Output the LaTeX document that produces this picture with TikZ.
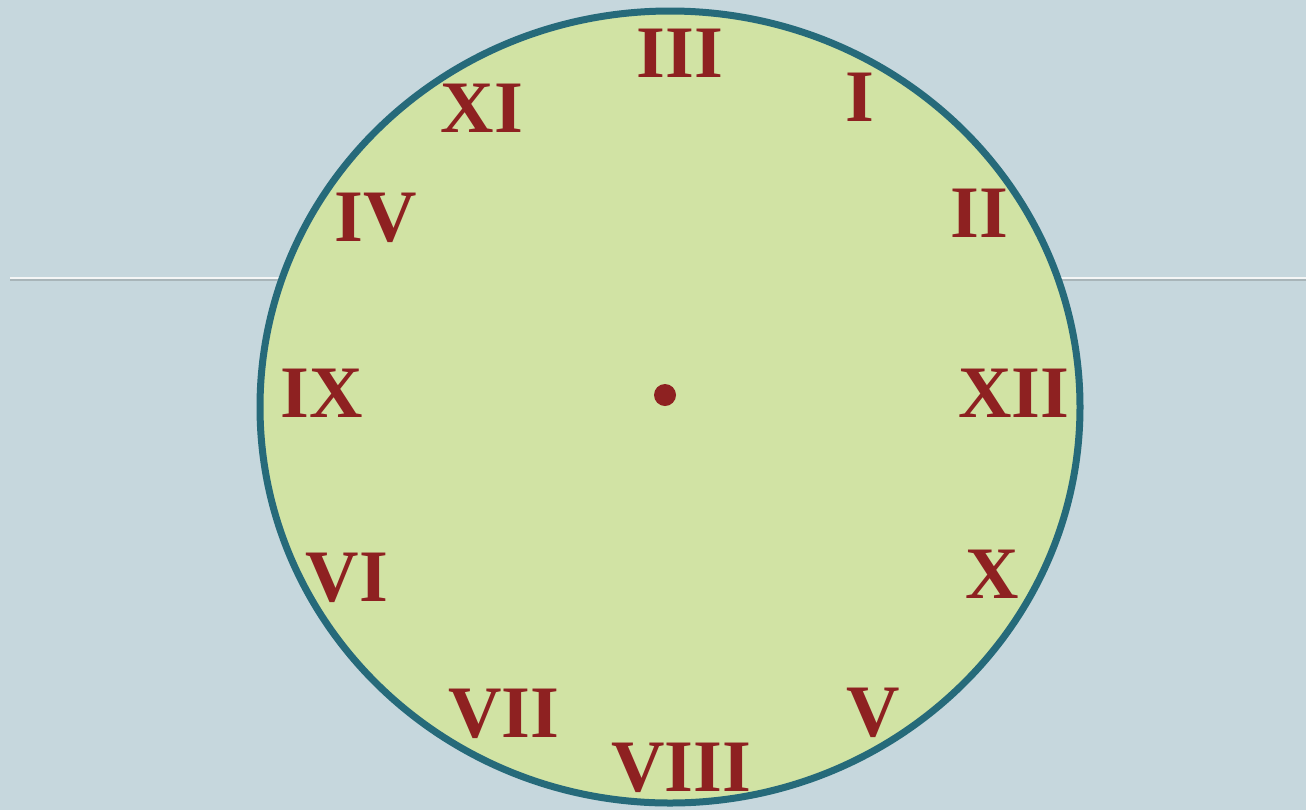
\documentclass[tikz,border=0pt]{standalone}
\usepackage{fontspec}
\setmainfont{Liberation Serif}
\usetikzlibrary{shapes.geometric}
\definecolor{paper}{HTML}{C6D7DD}
\definecolor{dialfill}{HTML}{D1E3A4}
\definecolor{rim}{HTML}{266A7A}
\definecolor{numred}{HTML}{8E2121}
\definecolor{ruleshadow}{HTML}{A8B5B9}
\definecolor{rulewhite}{HTML}{F4F6F6}

\begin{document}
\begin{tikzpicture}[
  x=0.5pt, y=-0.5pt,
  numeral/.style={text=numred, font=\fontsize{37}{37}\selectfont\bfseries, inner sep=0pt},
  dialface/.style={ellipse, draw=rim, fill=dialfill, line width=3.5pt, minimum width=410pt, minimum height=396pt, inner sep=0pt}
]
\fill[paper] (0,0) rectangle (1306,810);
\useasboundingbox (0,0) rectangle (1306,810);
% rule behind the dial
\coordinate (ruleL) at (10,278);
\coordinate (ruleR) at (1306,278);
\draw[draw=ruleshadow, line width=1.2pt] ([yshift=-1.1pt]ruleL) -- ([yshift=-1.1pt]ruleR);
\draw[draw=rulewhite, line width=1.2pt] (ruleL) -- (ruleR);
% dial
\node[dialface] (dial) at (670,407) {};
\fill[numred] (665,395) circle (5.5pt);
\node[numeral] (iii) at (680,53) {III};
\node[numeral] (i) at (860,97) {I};
\node[numeral] (xi) at (482,108) {XI};
\node[numeral] (ii) at (979,213) {II};
\node[numeral] (iv) at (376,218) {IV};
\node[numeral] (ix) at (322,393) {IX};
\node[numeral] (xii) at (1014,393) {XII};
\node[numeral] (vi) at (347,578) {VI};
\node[numeral] (x) at (992,574) {X};
\node[numeral] (vii) at (504,714) {VII};
\node[numeral] (v) at (873,713) {V};
\node[numeral] (viii) at (681,768) {VIII};
\end{tikzpicture}
\end{document}
